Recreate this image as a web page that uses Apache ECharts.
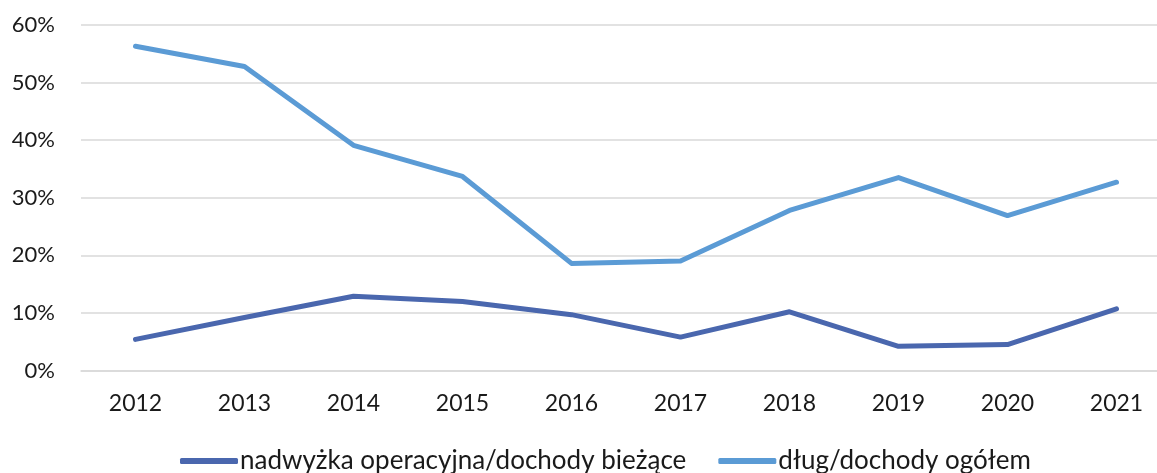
<!DOCTYPE html>
<html>
<head>
<meta charset="utf-8">
<script src="https://cdn.jsdelivr.net/npm/echarts@6/dist/echarts.min.js"></script>
<style>
  html, body { margin: 0; padding: 0; background: #fff; }
  #chart { width: 1157px; height: 473px; }
</style>
</head>
<body>
<div id="chart"></div>
<script>
// Years on the category axis
const years = ['2012', '2013', '2014', '2015', '2016', '2017', '2018', '2019', '2020', '2021'];
// Operating surplus / current revenue, in %
const nadwyzka = [5.4, 9.2, 12.9, 12.0, 9.7, 5.8, 10.2, 4.2, 4.5, 10.7];
// Debt / total revenue, in %
const dlug = [56.3, 52.8, 39.1, 33.7, 18.6, 19.0, 27.8, 33.5, 26.9, 32.7];
// Series names shown in the legend
const seriesNames = ['nadwyżka operacyjna/dochody bieżące', 'dług/dochody ogółem'];

const FONT = 'Lato, "Noto Sans", sans-serif';
const TEXT = '#1a1a1a';

const chart = echarts.init(document.getElementById('chart'), null, { renderer: 'canvas' });

chart.setOption({
  animation: false,
  // plot area runs a little past the right edge of the canvas
  grid: { left: 81, width: 1090, top: 25, height: 345.5, containLabel: false, outerBoundsMode: 'none' },
  legend: {
    top: 448,
    left: 180,
    padding: 0,
    itemWidth: 58,
    itemHeight: 6,
    itemGap: 32,
    icon: 'roundRect',
    textStyle: { fontFamily: FONT, fontSize: 26, color: TEXT, padding: [0, 0, 0, -3] },
    data: seriesNames
  },
  xAxis: {
    type: 'category',
    data: years,
    boundaryGap: true,
    axisLine: { show: true, lineStyle: { color: '#d9d9d9', width: 1.5 } },
    axisTick: { show: false },
    axisLabel: { fontFamily: FONT, fontSize: 23, color: TEXT, margin: 22 }
  },
  yAxis: {
    type: 'value',
    min: 0,
    max: 60,
    interval: 10,
    axisLine: { show: false },
    axisTick: { show: false },
    axisLabel: { fontFamily: FONT, fontSize: 22, color: TEXT, margin: 26, formatter: '{value}%' },
    splitLine: { lineStyle: { color: '#d9d9d9', width: 1.5 } }
  },
  series: [
    {
      name: seriesNames[0],
      type: 'line',
      data: nadwyzka,
      symbol: 'none',
      color: '#4a67ae',
      lineStyle: { width: 5, color: '#4a67ae', cap: 'round', join: 'round' }
    },
    {
      name: seriesNames[1],
      type: 'line',
      data: dlug,
      symbol: 'none',
      color: '#5b9bd5',
      lineStyle: { width: 5, color: '#5b9bd5', cap: 'round', join: 'round' }
    }
  ]
});
</script>
</body>
</html>
